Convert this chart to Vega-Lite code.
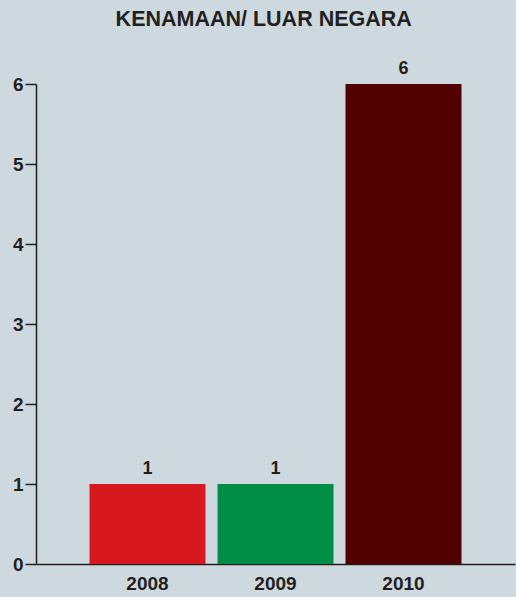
{
  "$schema": "https://vega.github.io/schema/vega-lite/v6.json",
  "autosize": {"type": "none"},
  "width": 479,
  "height": 480,
  "padding": {"left": 36, "top": 84, "right": 1, "bottom": 33},
  "background": "#cdd9df",
  "title": {
    "text": "KENAMAAN/ LUAR NEGARA",
    "font": "Liberation Sans",
    "fontSize": 21.5,
    "fontWeight": "bold",
    "color": "#231f20",
    "anchor": "middle",
    "frame": "bounds",
    "offset": 30
  },
  "config": {
    "view": {"stroke": null},
    "axis": {
      "labelFont": "Arial Narrow, Liberation Sans Narrow, Liberation Sans",
      "labelFontWeight": "bold",
      "labelFontSize": 19,
      "labelColor": "#231f20",
      "domainColor": "#231f20",
      "domainWidth": 1.5,
      "tickColor": "#231f20",
      "tickWidth": 1.5,
      "grid": false,
      "title": null
    }
  },
  "data": {
    "values": [
      {"year": "2008", "value": 1},
      {"year": "2009", "value": 1},
      {"year": "2010", "value": 6}
    ]
  },
  "encoding": {
    "x": {
      "field": "year",
      "type": "nominal",
      "scale": {"paddingInner": 0.094, "paddingOuter": 0.418},
      "axis": {"labelAngle": 0, "ticks": false, "labelPadding": 10}
    },
    "y": {
      "field": "value",
      "type": "quantitative",
      "scale": {"domain": [0, 6], "nice": false},
      "axis": {"values": [0, 1, 2, 3, 4, 5, 6], "labelOverlap": false, "tickSize": 11, "labelPadding": 2}
    }
  },
  "layer": [
    {
      "mark": {"type": "bar"},
      "encoding": {
        "color": {
          "field": "year",
          "type": "nominal",
          "scale": {"domain": ["2008", "2009", "2010"], "range": ["#d7191f", "#008d45", "#500000"]},
          "legend": null
        }
      }
    },
    {
      "mark": {
        "type": "text",
        "baseline": "alphabetic",
        "dy": -10,
        "font": "Arial Narrow, Liberation Sans Narrow, Liberation Sans",
        "fontWeight": "bold",
        "fontSize": 18,
        "color": "#231f20"
      },
      "encoding": {
        "text": {"field": "value", "type": "quantitative"}
      }
    }
  ]
}
